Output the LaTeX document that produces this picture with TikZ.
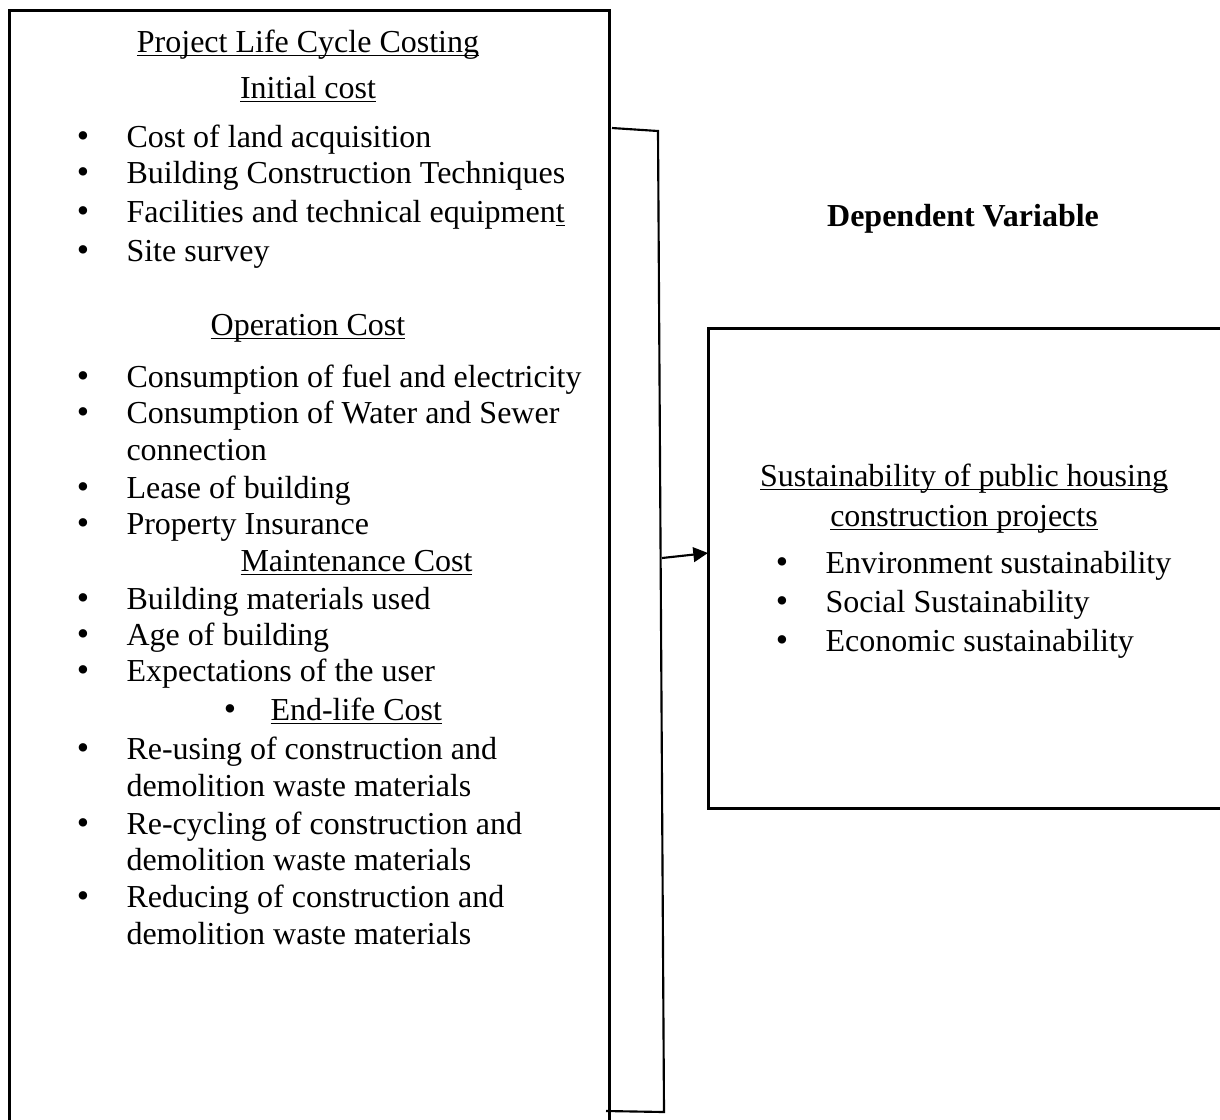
\documentclass[tikz,border=0pt]{standalone}
\usepackage{fontspec}
\setmainfont{Liberation Serif}
\usetikzlibrary{arrows.meta, positioning}
\newcommand{\ulined}[1]{\underline{\smash{#1}}}
\newcommand{\bigbullet}{\scalebox{1.1}{\textbullet}}

\begin{document}
\begin{tikzpicture}[x=0.375pt, y=-0.375pt,
    frame/.style={draw, line width=1.1pt, inner sep=0pt, anchor=north west},
    brace/.style={line width=0.8pt},
    item/.style={anchor=base west, inner sep=0pt, font=\fontsize{12}{14}\selectfont},
    head/.style={anchor=base, inner sep=0pt, font=\fontsize{12}{14}\selectfont},
    dot/.style={anchor=base, inner sep=0pt, yshift=-0.3pt, font=\fontsize{12}{14}\selectfont}]
    \useasboundingbox (0,0) rectangle (1220,1119);

    % Independent variable box
    \node[frame, minimum width=225pt, minimum height=420.4pt] (lbox) at (8,9) {};
    \node[head] (title) at (308,52) {\ulined{Project Life Cycle Costing}};
    \node[head] (initial) at (308,98) {\ulined{Initial cost}};
    \node[head] (operation) at (308,335) {\ulined{Operation Cost}};
    \node[item] (maintenance) at (240,571) {\ulined{Maintenance Cost}};
    \node[item] (endlife) at (270,720) {\ulined{End-life Cost}};
    \node[dot] (endlifedot) at (230,720) {\bigbullet};
    \foreach \y/\t [count=\i] in {147/Cost of land acquisition,
        183/Building Construction Techniques,
        222/Facilities and technical equipmen\ulined{t},
        261/Site survey,
        387/Consumption of fuel and electricity,
        423/Consumption of Water and Sewer,
        460/connection,
        498/Lease of building,
        534/Property Insurance,
        609/Building materials used,
        645/Age of building,
        681/Expectations of the user,
        759/Re-using of construction and,
        796/demolition waste materials,
        834/Re-cycling of construction and,
        870/demolition waste materials,
        907/Reducing of construction and,
        944/demolition waste materials}
        \node[item] (lline\i) at (126,\y) {\t};
    \foreach \y [count=\i] in {147,183,222,261,387,423,498,534,609,645,681,759,834,907}
        \node[dot] (ldot\i) at (83,\y) {\bigbullet};

    % Dependent variable box
    \node[head, font=\fontsize{12}{14}\selectfont\bfseries] (dependent) at (963,226) {Dependent Variable};
    \node[frame, minimum width=193.5pt, minimum height=180pt] (rbox) at (707,327) {};
    \node[head] (sus1) at (964,486) {\ulined{Sustainability of public housing}};
    \node[head] (sus2) at (964,526) {\ulined{construction projects}};
    \foreach \y/\t [count=\i] in {573/Environment sustainability,
        612/Social Sustainability,
        651/Economic sustainability} {
        \node[dot] (rdot\i) at (782,\y) {\bigbullet};
        \node[item] (rline\i) at (825,\y) {\t};
    }

    % Bracket and arrow
    \coordinate (bracetop) at (612,128);
    \coordinate (bracetr) at (658,131);
    \coordinate (bracebr) at (664,1112);
    \coordinate (bracebot) at (606,1111);
    \coordinate (arrowstart) at (662,558);
    \coordinate (arrowend) at (708,553);
    \draw[brace] (bracetop) -- (bracetr) -- (bracebr) -- (bracebot);
    \draw[brace, -{Triangle[length=5.5pt, width=5.5pt]}] (arrowstart) -- (arrowend);
\end{tikzpicture}
\end{document}
